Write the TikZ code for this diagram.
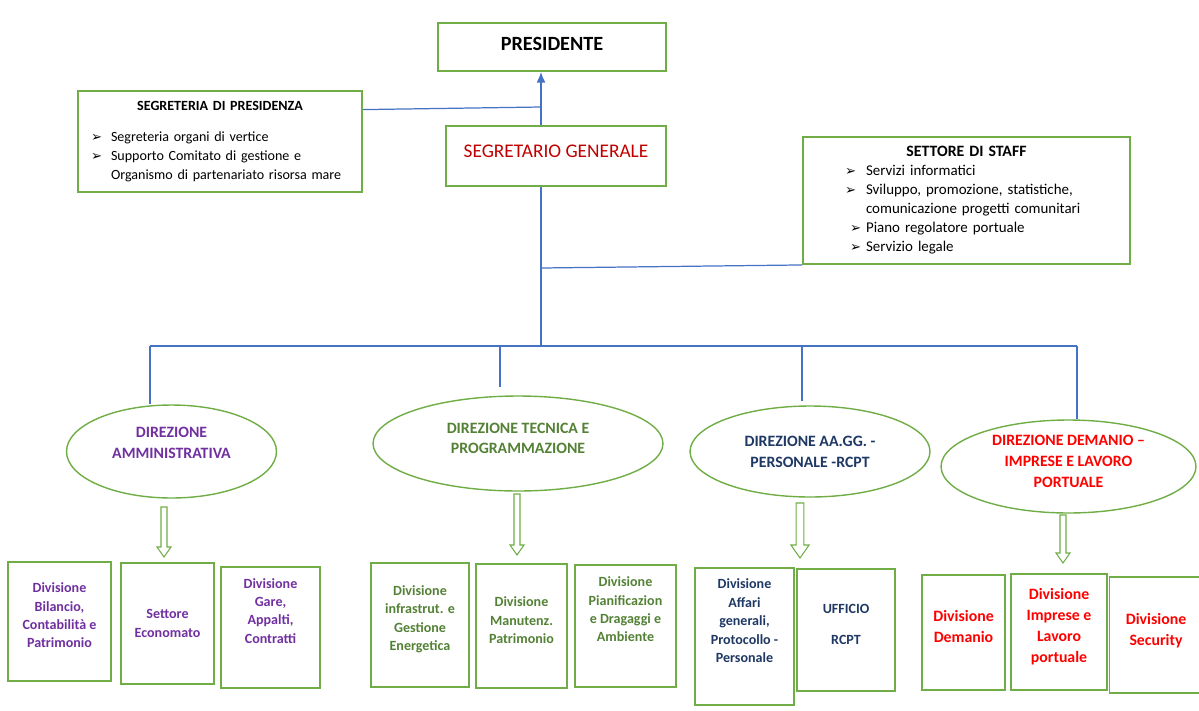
\documentclass[tikz,border=0pt]{standalone}
\usepackage{fontspec}
\setmainfont{Carlito}
\newfontfamily\symfont{DejaVu Sans}
\usetikzlibrary{arrows.meta, positioning, shapes.geometric, calc}

\definecolor{boxgreen}{HTML}{70AD47}
\definecolor{linkblue}{HTML}{4472C4}
\definecolor{dirpurple}{HTML}{7030A0}
\definecolor{dirgreen}{HTML}{538135}
\definecolor{dirnavy}{HTML}{1F3864}
\definecolor{sgred}{HTML}{C00000}

% bullet of the lists
\newcommand{\bul}[1][0.4cm]{\makebox[#1][l]{\symfont\fontsize{7.5}{7.5}\selectfont ➢}}
% hollow block arrow: x, top, bottom, scale
\newcommand{\hollowarrow}[4]{%
  \draw[hollow] (#1-3*#4,#2) -- (#1+3*#4,#2) -- (#1+3*#4,#3-10*#4)
    -- (#1+7*#4,#3-10*#4) -- (#1,#3) -- (#1-7*#4,#3-10*#4)
    -- (#1-3*#4,#3-10*#4) -- cycle;}

\begin{document}
\begin{tikzpicture}[
    x=0.02cm, y=-0.02cm, >={Latex[length=6pt,width=5pt]},
    topbox/.style={draw=boxgreen, line width=1.1pt, inner sep=0pt},
    dir/.style={ellipse, draw=boxgreen, line width=0.8pt, align=center,
                inner sep=0pt, font=\bfseries\fontsize{9}{11.8}\selectfont},
    unit/.style={draw=boxgreen, line width=1.1pt, align=center, inner sep=1pt,
                 font=\bfseries\fontsize{8}{10.5}\selectfont},
    bigunit/.style={unit, font=\bfseries\fontsize{9}{11.8}\selectfont},
    link/.style={draw=linkblue, line width=0.7pt},
    hollow/.style={draw=boxgreen, line width=0.6pt}
  ]
  \useasboundingbox (0,0) rectangle (1199,710);

  % top of the chart
  \node[topbox, minimum width=4.56cm, minimum height=0.96cm, text depth=4pt,
        font=\bfseries\fontsize{11.5}{14}\selectfont] (pres) at (552,47) {PRESIDENTE};
  \node[topbox, minimum width=4.4cm, minimum height=1.2cm, text=sgred,
        font=\fontsize{11}{13}\selectfont, text depth=5.5pt] (sg) at (556,156)
    {SEGRETARIO GENERALE};
  \node[topbox, minimum width=5.68cm, minimum height=2.02cm, text width=5.16cm,
        align=left, font=\fontsize{8}{10.8}\selectfont] (segp) at (220,141.5)
    {\makebox[\hsize]{\textbf{SEGRETERIA DI PRESIDENZA}}\\[6.8pt]
     \bul Segreteria organi di vertice\\
     \bul Supporto Comitato di gestione e\\
     \hspace*{0.4cm}Organismo di partenariato risorsa mare};
  \node[topbox, minimum width=6.54cm, minimum height=2.54cm, text width=4.86cm,
        align=left, font=\fontsize{8.5}{10.8}\selectfont] (staff) at (966.5,200.5)
    {\makebox[\hsize]{\bfseries\fontsize{9}{10.8}\selectfont SETTORE DI STAFF}\\
     \bul[0.42cm]Servizi informatici\\
     \bul[0.42cm]Sviluppo, promozione, statistiche,\\
     \hspace*{0.42cm}comunicazione progetti comunitari\\
     \hspace*{0.1cm}\bul[0.32cm]Piano regolatore portuale\\
     \hspace*{0.1cm}\bul[0.32cm]Servizio legale};

  \coordinate (trunk) at (541,346);
  \coordinate (tap) at (541,107);
  \coordinate (staffj) at (541,268);
  \draw[link, ->] (sg.north -| trunk) -- (pres.south -| trunk);
  \draw[link] ($(segp.north east)!0.19!(segp.south east)$) -- (tap);
  \draw[link] (sg.south -| trunk) -- (trunk);
  \draw[link] (staffj) -- (staff.south west);

  % direzioni
  \node[dir, minimum width=4.2cm, minimum height=1.86cm, text=dirpurple,
        text depth=10pt] (dirA) at (171.5,451.5) {DIREZIONE\\AMMINISTRATIVA};
  \node[dir, minimum width=5.8cm, minimum height=1.9cm, text=dirgreen,
        text depth=6pt] (dirB) at (518,443.5) {DIREZIONE TECNICA E\\PROGRAMMAZIONE};
  \node[dir, minimum width=4.8cm, minimum height=1.82cm, text=dirnavy]
    (dirC) at (810,451.5) {DIREZIONE AA.GG. -\\PERSONALE -RCPT};
  \node[dir, minimum width=5.1cm, minimum height=1.86cm, text=red,
        text depth=6pt] (dirD) at (1068.5,466.5)
    {DIREZIONE DEMANIO --\\IMPRESE E LAVORO\\PORTUALE};

  \coordinate (busA) at (150,346);
  \coordinate (busB) at (500,346);
  \coordinate (busC) at (802,346);
  \coordinate (busD) at (1077,346);
  \draw[link] (busA) -- (busD);
  \draw[link] (busA) -- (busA |- dirA.north);
  \draw[link, shorten >=0.16cm] (busB) -- (busB |- dirB.north);
  \draw[link, shorten >=0.08cm] (busC) -- (busC |- dirC.north);
  \draw[link] (busD) -- (busD |- dirD.north);

  \hollowarrow{164}{507}{557}{1}
  \hollowarrow{517}{494}{555}{1}
  \hollowarrow{800}{503}{558}{1.3}
  \hollowarrow{1063}{515}{563}{1}

  % divisioni
  \node[unit, minimum width=2.06cm, minimum height=2.38cm, text=dirpurple,
        text depth=7pt] (bilancio) at (59.5,621.5)
    {Divisione\\Bilancio,\\Contabilità e\\Patrimonio};
  \node[unit, minimum width=1.86cm, minimum height=2.42cm, text=dirpurple]
    (economato) at (167.5,623.5) {Settore\\Economato};
  \node[unit, minimum width=1.98cm, minimum height=2.42cm, text=dirpurple,
        text depth=19pt] (gare) at (270.5,627.5) {Divisione\\Gare,\\Appalti,\\Contratti};

  \node[unit, minimum width=1.96cm, minimum height=2.48cm, text=dirgreen,
        text depth=8pt] (infra) at (420,625) {Divisione\\infrastrut. e\\Gestione\\Energetica};
  \node[unit, minimum width=1.82cm, minimum height=2.48cm, text=dirgreen,
        text depth=6.5pt] (manut) at (521.5,626) {Divisione\\Manutenz.\\Patrimonio};
  \node[unit, minimum width=2.02cm, minimum height=2.44cm, text=dirgreen,
        text depth=19pt] (pianif) at (625.5,626)
    {Divisione\\Pianificazion\\e Dragaggi e\\Ambiente};

  \node[unit, minimum width=1.98cm, minimum height=2.74cm, text=dirnavy,
        text depth=18pt] (affari) at (744.5,636.5)
    {Divisione\\Affari\\generali,\\Protocollo -\\Personale};
  \node[unit, minimum width=1.96cm, minimum height=2.44cm, text=dirnavy,
        text depth=6.5pt] (rcpt) at (846,630) {UFFICIO\\[7pt]RCPT};

  \node[bigunit, minimum width=1.66cm, minimum height=2.3cm, text=red,
        text depth=6.5pt] (demanio) at (963.5,632.5) {Divisione\\Demanio};
  \node[bigunit, minimum width=1.92cm, minimum height=2.32cm, text=red,
        text depth=7.5pt] (imprese) at (1059,632) {Divisione\\Imprese e\\Lavoro\\portuale};
  \node[bigunit, minimum width=1.86cm, minimum height=2.32cm, text=red,
        text depth=6.5pt] (security) at (1156,635) {Divisione\\Security};
\end{tikzpicture}
\end{document}
